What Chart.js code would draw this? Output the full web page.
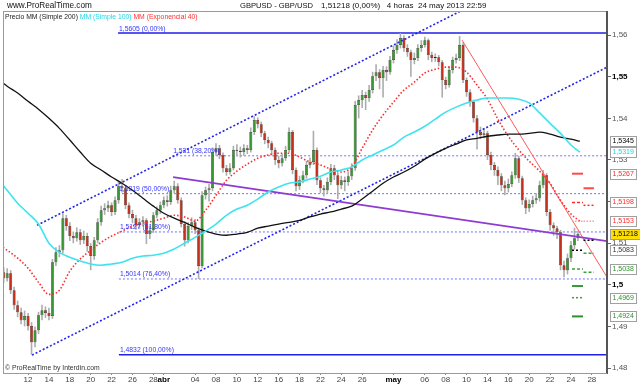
<!DOCTYPE html>
<html><head><meta charset="utf-8">
<script src="https://cdn.jsdelivr.net/npm/chart.js@4/dist/chart.umd.min.js"></script>
<style>html,body{margin:0;padding:0;background:#fff}canvas{display:block}</style>
</head><body>
<canvas id="c" width="640" height="384"></canvas>
<script>
// ---------- DATA ----------
// 8h-style candles, GBPUSD
const firstBarDay = -1.333;   // trading-day index of first candle
const barsPerDay = 3;
const opens = [1.5030,1.5016,1.5028,1.4987,1.4951,1.4934,1.4915,1.4925,1.4901,1.4862,
 1.4891,1.4927,1.4939,1.4932,1.4925,1.5054,1.5078,1.5083,1.5160,1.5141,
 1.5117,1.5112,1.5126,1.5107,1.5117,1.5093,1.5069,1.5107,1.5150,1.5179,
 1.5184,1.5191,1.5175,1.5203,1.5237,1.5232,1.5191,1.5170,1.5160,1.5143,
 1.5150,1.5155,1.5122,1.5131,1.5167,1.5179,1.5191,1.5203,1.5199,1.5227,
 1.5237,1.5203,1.5146,1.5107,1.5141,1.5150,1.5131,1.5045,1.5215,1.5227,
 1.5232,1.5319,1.5328,1.5312,1.5280,1.5271,1.5280,1.5324,1.5322,1.5319,
 1.5328,1.5324,1.5367,1.5396,1.5386,1.5364,1.5348,1.5340,1.5324,1.5300,
 1.5292,1.5304,1.5324,1.5367,1.5276,1.5237,1.5251,1.5263,1.5288,1.5295,
 1.5324,1.5251,1.5232,1.5227,1.5247,1.5280,1.5263,1.5239,1.5251,1.5247,
 1.5261,1.5280,1.5432,1.5444,1.5456,1.5449,1.5468,1.5501,1.5511,1.5497,
 1.5516,1.5511,1.5540,1.5564,1.5576,1.5593,1.5569,1.5559,1.5540,1.5545,
 1.5569,1.5576,1.5588,1.5552,1.5545,1.5547,1.5535,1.5492,1.5480,1.5516,
 1.5540,1.5545,1.5576,1.5492,1.5463,1.5439,1.5400,1.5367,1.5360,1.5364,
 1.5312,1.5288,1.5276,1.5261,1.5239,1.5232,1.5242,1.5263,1.5304,1.5256,
 1.5203,1.5184,1.5194,1.5203,1.5208,1.5239,1.5263,1.5175,1.5143,1.5136,
 1.5126,1.5047,1.5035,1.5064,1.5095,1.5112];
const highs = [1.5042,1.5040,1.5035,1.4995,1.4962,1.4945,1.4938,1.4932,1.4910,1.4900,
 1.4935,1.4952,1.4948,1.4945,1.5062,1.5090,1.5095,1.5172,1.5168,1.5150,
 1.5128,1.5138,1.5134,1.5130,1.5125,1.5100,1.5115,1.5160,1.5190,1.5196,
 1.5202,1.5198,1.5212,1.5250,1.5254,1.5240,1.5198,1.5180,1.5168,1.5160,
 1.5165,1.5160,1.5142,1.5175,1.5188,1.5200,1.5212,1.5215,1.5238,1.5250,
 1.5244,1.5210,1.5152,1.5150,1.5162,1.5158,1.5138,1.5225,1.5236,1.5242,
 1.5330,1.5340,1.5336,1.5318,1.5288,1.5292,1.5334,1.5338,1.5332,1.5338,
 1.5336,1.5378,1.5405,1.5402,1.5392,1.5370,1.5356,1.5346,1.5330,1.5310,
 1.5315,1.5334,1.5378,1.5372,1.5282,1.5262,1.5274,1.5298,1.5306,1.5370,
 1.5330,1.5258,1.5240,1.5258,1.5290,1.5288,1.5270,1.5262,1.5260,1.5272,
 1.5292,1.5442,1.5455,1.5468,1.5464,1.5480,1.5512,1.5530,1.5518,1.5526,
 1.5525,1.5550,1.5575,1.5590,1.5605,1.5600,1.5578,1.5565,1.5558,1.5578,
 1.5588,1.5596,1.5592,1.5560,1.5556,1.5552,1.5540,1.5500,1.5525,1.5548,
 1.5555,1.5598,1.5582,1.5498,1.5470,1.5445,1.5408,1.5380,1.5376,1.5370,
 1.5320,1.5295,1.5284,1.5268,1.5250,1.5255,1.5272,1.5317,1.5310,1.5262,
 1.5210,1.5205,1.5214,1.5220,1.5250,1.5276,1.5268,1.5182,1.5150,1.5142,
 1.5132,1.5058,1.5075,1.5105,1.5137,1.5130];
const lows = [1.5005,1.5008,1.4978,1.4940,1.4922,1.4905,1.4900,1.4890,1.4832,1.4850,
 1.4882,1.4915,1.4920,1.4915,1.4918,1.5045,1.5066,1.5075,1.5130,1.5105,
 1.5100,1.5104,1.5096,1.5098,1.5080,1.5035,1.5060,1.5100,1.5142,1.5168,
 1.5175,1.5165,1.5168,1.5195,1.5222,1.5182,1.5160,1.5148,1.5132,1.5135,
 1.5140,1.5098,1.5110,1.5125,1.5160,1.5170,1.5184,1.5188,1.5192,1.5220,
 1.5195,1.5138,1.5092,1.5100,1.5132,1.5122,1.5014,1.5040,1.5205,1.5200,
 1.5225,1.5310,1.5302,1.5270,1.5262,1.5265,1.5275,1.5312,1.5306,1.5310,
 1.5314,1.5318,1.5360,1.5376,1.5355,1.5338,1.5328,1.5312,1.5288,1.5280,
 1.5284,1.5298,1.5318,1.5266,1.5225,1.5228,1.5244,1.5255,1.5280,1.5288,
 1.5240,1.5220,1.5212,1.5218,1.5240,1.5252,1.5206,1.5230,1.5225,1.5238,
 1.5252,1.5274,1.5400,1.5425,1.5420,1.5440,1.5460,1.5490,1.5470,1.5450,
 1.5490,1.5505,1.5532,1.5555,1.5568,1.5560,1.5548,1.5500,1.5530,1.5538,
 1.5560,1.5570,1.5540,1.5535,1.5536,1.5525,1.5450,1.5470,1.5474,1.5508,
 1.5532,1.5538,1.5485,1.5452,1.5428,1.5390,1.5325,1.5350,1.5352,1.5300,
 1.5275,1.5262,1.5240,1.5225,1.5215,1.5222,1.5235,1.5255,1.5245,1.5192,
 1.5170,1.5175,1.5186,1.5195,1.5200,1.5232,1.5165,1.5130,1.5118,1.5110,
 1.5035,1.5018,1.5025,1.5055,1.5085,1.5105];
const closes = [1.5016,1.5028,1.4987,1.4951,1.4934,1.4915,1.4925,1.4901,1.4862,1.4891,
 1.4927,1.4939,1.4932,1.4925,1.5054,1.5078,1.5083,1.5160,1.5141,1.5117,
 1.5112,1.5126,1.5107,1.5117,1.5093,1.5069,1.5107,1.5150,1.5179,1.5184,
 1.5191,1.5175,1.5203,1.5237,1.5232,1.5191,1.5170,1.5160,1.5143,1.5150,
 1.5155,1.5122,1.5131,1.5167,1.5179,1.5191,1.5203,1.5199,1.5227,1.5237,
 1.5203,1.5146,1.5107,1.5141,1.5150,1.5131,1.5045,1.5215,1.5227,1.5232,
 1.5319,1.5328,1.5312,1.5280,1.5271,1.5280,1.5324,1.5322,1.5319,1.5328,
 1.5324,1.5367,1.5396,1.5386,1.5364,1.5348,1.5340,1.5324,1.5300,1.5292,
 1.5304,1.5324,1.5367,1.5276,1.5237,1.5251,1.5263,1.5288,1.5295,1.5324,
 1.5251,1.5232,1.5227,1.5247,1.5280,1.5263,1.5239,1.5251,1.5247,1.5261,
 1.5280,1.5432,1.5444,1.5456,1.5449,1.5468,1.5501,1.5511,1.5497,1.5516,
 1.5511,1.5540,1.5564,1.5576,1.5593,1.5569,1.5559,1.5540,1.5545,1.5569,
 1.5576,1.5588,1.5552,1.5545,1.5547,1.5535,1.5492,1.5480,1.5516,1.5540,
 1.5545,1.5576,1.5492,1.5463,1.5439,1.5400,1.5367,1.5360,1.5364,1.5312,
 1.5288,1.5276,1.5261,1.5239,1.5232,1.5242,1.5263,1.5304,1.5256,1.5203,
 1.5184,1.5194,1.5203,1.5208,1.5239,1.5263,1.5175,1.5143,1.5136,1.5126,
 1.5047,1.5035,1.5064,1.5095,1.5112,1.51218];

// moving averages, sampled per trading day
const maDays = [-1.4,-1,0,1,2,3,4,5,6,7,8,9,10,11,12,13,14,15,16,17,18,19,20,21,22,23,24,25,26,27,
 28,29,30,31,32,33,34,35,36,37,38,39,40,41,42,43,44,45,46,47,48,49,50,51,52,53,53.85];
const sma200 = [1.5485,1.5477,1.5461,1.5441,1.5422,1.5400,1.5376,1.5348,1.5319,1.5292,
 1.5276,1.5259,1.5244,1.5227,1.5208,1.5189,1.5172,1.5160,1.5150,1.5138,
 1.5129,1.5122,1.5119,1.5122,1.5126,1.5136,1.5141,1.5146,1.5150,1.5155,
 1.5163,1.5170,1.5175,1.5182,1.5189,1.5206,1.5225,1.5244,1.5259,1.5271,
 1.5285,1.5302,1.5316,1.5328,1.5338,1.5348,1.5352,1.5357,1.5360,1.5362,
 1.5362,1.5364,1.5367,1.5362,1.5355,1.5350,1.5345];
const sma100 = [1.5239,1.5227,1.5196,1.5172,1.5146,1.5100,1.5078,1.5066,1.5057,1.5050,
 1.5047,1.5050,1.5054,1.5064,1.5069,1.5071,1.5076,1.5086,1.5100,1.5114,
 1.5129,1.5146,1.5167,1.5182,1.5191,1.5206,1.5223,1.5235,1.5244,1.5247,
 1.5254,1.5261,1.5271,1.5276,1.5283,1.5300,1.5312,1.5324,1.5336,1.5355,
 1.5367,1.5381,1.5398,1.5415,1.5427,1.5437,1.5444,1.5449,1.5449,1.5449,
 1.5446,1.5437,1.5413,1.5388,1.5364,1.5336,1.5319];
const ema40 = [1.5090,1.5083,1.5064,1.5040,1.5006,1.4977,1.4987,1.5033,1.5062,1.5083,
 1.5102,1.5117,1.5129,1.5141,1.5148,1.5153,1.5160,1.5167,1.5163,1.5153,
 1.5179,1.5215,1.5251,1.5273,1.5290,1.5304,1.5312,1.5316,1.5316,1.5307,
 1.5295,1.5288,1.5278,1.5271,1.5283,1.5328,1.5372,1.5408,1.5439,1.5468,
 1.5487,1.5509,1.5518,1.5523,1.5523,1.5511,1.5480,1.5446,1.5398,1.5357,
 1.5324,1.5297,1.5273,1.5244,1.5203,1.5170,1.5153];

// drawn trend lines: [day, price] end points
const channelUpperDays = [1.86, 42.6],  channelUpperPrices = [1.5143, 1.5660];
const channelLowerDays = [1.38, 56.46], channelLowerPrices = [1.4831, 1.5523];
const purpleDays = [14.89, 56.46],      purplePrices = [1.5259, 1.5105];
const redTrendDays = [42.57, 56.46],    redTrendPrices = [1.5588, 1.5018];

// Fibonacci retracement
const fibLevels = [1.5605, 1.5310, 1.5219, 1.5127, 1.5014, 1.4832];
const fibLabels = ['1,5605 (0,00%)','1,531 (38,20%)','1,5219 (50,00%)','1,5127 (61,80%)','1,5014 (76,40%)','1,4832 (100,00%)'];
const fibStartDays = [9.62, 14.8, 9.62, 9.7, 9.7, 9.7];
const fibEndDay = 56.46;

// pivot levels (two periods)
const pivotADays = [53.1, 54.15];
const pivotALevels = [1.5267, 1.5198, 1.5153, 1.5083, 1.5038, 1.4997, 1.4969, 1.4924];
const pivotBDays = [54.2, 55.2];
const pivotBLevels = [1.5232, 1.5191, 1.5153, 1.5107, 1.5076, 1.5030];

// right-hand value boxes
const boxValues = [1.5345, 1.5319, 1.5267, 1.5198, 1.5153, 1.51218, 1.5083, 1.5038, 1.4969, 1.4924];
const boxTexts = ['1,5345','1,5319','1,5267','1,5198','1,5153','1,51218','1,5083','1,5038','1,4969','1,4924'];

// axes
const xTickDays = [1,3,5,7,9,11,13,14,17,19,21,23,25,27,29,31,33,36,39,41,43,45,47,49,51,53,55];
const xTickLabels = ['12','14','18','20','22','26','28','abr','04','08','10','12','16','18','22','24','26','may','06','08','10','14','16','20','22','24','28'];
const yTickValues = [1.48,1.49,1.50,1.51,1.52,1.53,1.54,1.55,1.56];
const yTickLabels = ['1,48','1,49','1,5','1,51','1,52','1,53','1,54','1,55','1,56'];

// ---------- STYLE / BUILD ----------
const FONT = '"Liberation Sans", Arial, sans-serif';
const UP = '#3a9632', DOWN = '#c4301a', WICK = '#acacac';
const candleDays = opens.map((_, i) => firstBarDay + i / barsPerDay);
const pts = (xs, ys) => xs.map((x, i) => ({x: x, y: ys[i]}));
function line(xs, ys, color, width, dash, order, smooth) {
  return {type: 'line', data: pts(xs, ys), borderColor: color, borderWidth: width,
    borderDash: dash || [], pointRadius: 0, fill: false, order: order,
    tension: 0, cubicInterpolationMode: smooth ? 'monotone' : 'default'};
}
const datasets = [];
// fib lines (behind candles)
fibLevels.forEach((lv, i) => {
  const solid = (i === 0 || i === fibLevels.length - 1);
  datasets.push(line([fibStartDays[i], fibEndDay], [lv, lv], solid ? '#1f1fe8' : '#7070ff',
    solid ? 1.6 : 1, solid ? [] : [2, 2], 8));
});
// wicks and bodies
datasets.push({type: 'bar', data: candleDays.map((d, i) => ({x: d, y: [lows[i], highs[i]]})),
  backgroundColor: WICK, barThickness: 1.6, grouped: false, inflateAmount: 0, borderWidth: 0, order: 6});
datasets.push({type: 'bar', data: candleDays.map((d, i) => ({x: d, y: [opens[i], closes[i]]})),
  backgroundColor: (c) => closes[c.dataIndex] >= opens[c.dataIndex] ? UP : DOWN,
  borderColor: '#1c1c1c', borderWidth: 0.5, borderSkipped: false,
  barThickness: 3, grouped: false, inflateAmount: 0, minBarLength: 1, order: 5});
// channels, trend lines
datasets.push(line(channelUpperDays, channelUpperPrices, '#2424ee', 1.6, [2, 2], 3));
datasets.push(line(channelLowerDays, channelLowerPrices, '#2424ee', 1.6, [2, 2], 3));
datasets.push(line(purpleDays, purplePrices, '#8d3bd0', 1.8, [], 2));
datasets.push(line(redTrendDays, redTrendPrices, '#ff5a5a', 1, [], 2));
// moving averages
datasets.push(line(maDays, sma100, '#3fe3ef', 1.6, [], 1, true));
datasets.push(line(maDays, sma200, '#111111', 1.3, [], 1, true));
datasets.push(line(maDays, ema40, '#ff2a2a', 1.6, [1.5, 2], 1, true));
// pivots
const pivAStyle = [['#ff4a4a',2,[]],['#ff2a2a',1.5,[3,2]],['#ff9a9a',1.5,[1.5,1.5]],['#000',1.5,[2,2]],
  ['#3aa03a',1.5,[3,2]],['#3a963a',2,[]],['#3aa03a',1.5,[2,2]],['#2f8f2f',2,[]]];
const pivBStyle = [['#ff4a4a',2,[]],['#ff2a2a',1.5,[2,2]],['#ff9a9a',1.5,[1.5,1.5]],['#000',1.5,[2,2]],
  ['#3aa03a',1.5,[3,2]],['#3aa03a',1.5,[3,2]]];
pivotALevels.forEach((lv, i) => datasets.push(line(pivotADays, [lv, lv], pivAStyle[i][0], pivAStyle[i][1], pivAStyle[i][2], 0)));
pivotBLevels.forEach((lv, i) => datasets.push(line(pivotBDays, [lv, lv], pivBStyle[i][0], pivBStyle[i][1], pivBStyle[i][2], 0)));

const boxStyle = [['#000','#fff'],['#12d6e6','#fff'],['#ff2a2a','#fff'],['#ff2a2a','#fff'],['#ff2a2a','#fff'],
  ['#000','#ffdf00'],['#333','#fff'],['#2f8f2f','#fff'],['#2f8f2f','#fff'],['#2f8f2f','#fff']];

const overlay = {
  id: 'overlay',
  beforeDraw(chart) {
    const c = chart.ctx; c.save(); c.fillStyle = '#fff'; c.fillRect(0, 0, chart.width, chart.height); c.restore();
  },
  afterDraw(chart) {
    const c = chart.ctx, a = chart.chartArea, xs = chart.scales.x, ys = chart.scales.y;
    c.save();
    // frame
    c.strokeStyle = '#9a9a9a'; c.lineWidth = 1;
    c.strokeRect(Math.round(a.left) + 0.5, Math.round(a.top) + 0.5, Math.round(a.right - a.left) - 1, Math.round(a.bottom - a.top));
    c.strokeStyle = '#555'; c.beginPath(); c.moveTo(Math.round(a.right) - 0.5, a.top); c.lineTo(Math.round(a.right) - 0.5, a.bottom); c.stroke();
    c.textBaseline = 'middle'; c.textAlign = 'left';
    // header
    c.fillStyle = '#111';
    c.font = '8.2px ' + FONT;
    c.fillText('www.ProRealTime.com', 7, 6);
    c.font = '7.6px ' + FONT;
    c.fillText('GBPUSD - GBP/USD', 240, 6);
    c.font = '8px ' + FONT;
    c.fillText('1,51218 (0,00%)   4 horas  24 may 2013 22:59', 321, 6);
    // legend
    c.font = '6.8px ' + FONT;
    let lx = a.left + 2; const ly = a.top + 6;
    [['Precio MM (Simple 200) ', '#222'], ['MM (Simple 100) ', '#22d8e8'], ['MM (Exponencial 40)', '#ff3030']].forEach(p => {
      c.fillStyle = p[1]; c.fillText(p[0], lx, ly); lx += c.measureText(p[0]).width;
    });
    // fib labels
    c.fillStyle = '#3535ff'; c.textBaseline = 'bottom';
    fibLevels.forEach((lv, i) => c.fillText(fibLabels[i], xs.getPixelForValue(fibStartDays[i]) + 1, ys.getPixelForValue(lv) - 1));
    // copyright
    c.fillStyle = '#333'; c.textBaseline = 'middle';
    c.fillText('\u00A9 ProRealTime by Interdin.com', a.left + 2, a.bottom - 5);
    // right boxes
    c.font = '7px ' + FONT;
    boxValues.forEach((v, i) => {
      const y = Math.round(ys.getPixelForValue(v));
      const w = Math.ceil(c.measureText(boxTexts[i]).width) + 4;
      const x0 = Math.round(a.right) + 3;
      c.fillStyle = boxStyle[i][1]; c.fillRect(x0, y - 5, w, 10);
      c.strokeStyle = '#a0a0a0'; c.strokeRect(x0 + 0.5, y - 4.5, w, 10);
      c.fillStyle = boxStyle[i][0]; c.fillText(boxTexts[i], x0 + 2.5, y + 0.5);
    });
    c.restore();
  }
};

new Chart(document.getElementById('c'), {
  type: 'bar',
  data: {datasets: datasets},
  plugins: [overlay],
  options: {
    responsive: false, animation: false, devicePixelRatio: 1,
    layout: {padding: {top: 11, left: 3, right: 0, bottom: 0}},
    plugins: {legend: {display: false}, tooltip: {enabled: false}, title: {display: false}},
    scales: {
      x: {type: 'linear', min: -1.4, max: 56.45, offset: false,
        grid: {display: true, drawOnChartArea: false, drawTicks: true, tickLength: 2, color: '#888', offset: false},
        border: {display: true, color: '#888'},
        afterBuildTicks: (s) => { s.ticks = xTickDays.map(v => ({value: v})); },
        afterFit: (s) => { s.height = 11; },
        ticks: {autoSkip: false, maxRotation: 0, padding: 0,
          callback: (v, i) => xTickLabels[i],
          color: (ctx) => (xTickLabels[ctx.index] === 'abr' || xTickLabels[ctx.index] === 'may') ? '#000' : '#444',
          font: (ctx) => ({family: FONT, size: 8, weight: (xTickLabels[ctx.index] === 'abr' || xTickLabels[ctx.index] === 'may') ? 'bold' : 'normal'})}
      },
      y: {type: 'linear', position: 'right', min: 1.4788, max: 1.5658,
        grid: {display: true, drawOnChartArea: false, drawTicks: true, tickLength: 4, color: '#666'},
        border: {display: true, color: '#555'},
        afterBuildTicks: (s) => { s.ticks = yTickValues.map(v => ({value: v})); },
        afterFit: (s) => { s.width = 33; },
        ticks: {padding: 1, autoSkip: false,
          callback: (v, i) => yTickLabels[i],
          color: (ctx) => (yTickLabels[ctx.index] === '1,55' || yTickLabels[ctx.index] === '1,5') ? '#000' : '#555',
          font: (ctx) => ({family: FONT, size: 8, weight: (yTickLabels[ctx.index] === '1,55' || yTickLabels[ctx.index] === '1,5') ? 'bold' : 'normal'})}
      }
    }
  }
});
</script>
</body></html>
